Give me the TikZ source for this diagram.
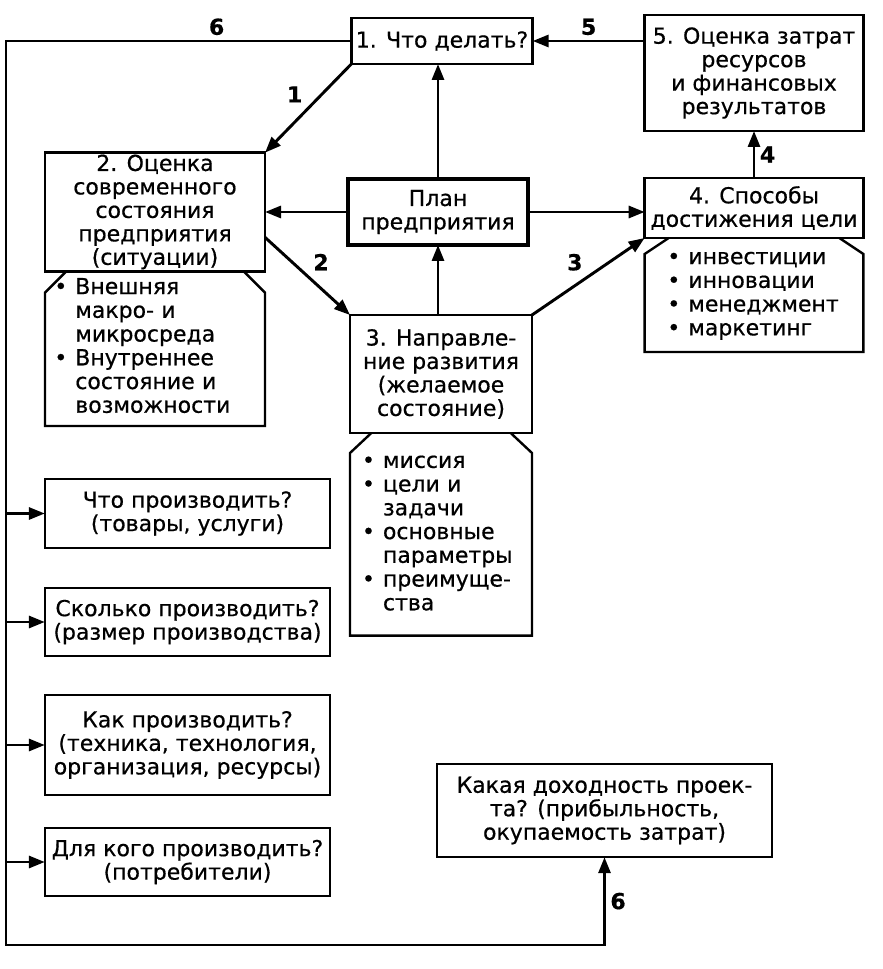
\documentclass[tikz,border=0pt]{standalone}
\usepackage{fontspec}
\setmainfont{DejaVu Sans}[FakeBold=0.6]
\usetikzlibrary{arrows.meta,positioning}

\tikzset{
  box/.style={draw, line width=1.8pt, align=center, inner xsep=3pt, inner ysep=0pt, outer sep=0pt, font=\fontsize{16.5}{17.6}\selectfont},
  planbox/.style={box, line width=3.2pt},
  listbox/.style={inner ysep=0pt, outer sep=0pt, align=left, font=\fontsize{16.5}{17.8}\selectfont},
  num/.style={font=\fontsize{16.5}{18}\selectfont\bfseries},
  conn/.style={line width=2.2pt, -{Triangle[length=12pt,width=9pt]}}
}

\begin{document}
\begin{tikzpicture}[x=0.75pt, y=-0.75pt]
  \useasboundingbox (0,0) rectangle (882,969);

  \node (b1) at (442, 41) [box, minimum width=136pt, minimum height=34.5pt] {1. Что делать?};
  \node (b5) at (754, 73) [box, minimum width=164pt, minimum height=87pt] {5. Оценка затрат\\ресурсов\\и финансовых\\результатов};
  \node (plan) at (438, 212) [planbox, minimum width=135pt, minimum height=49.5pt] {План\\предприятия};
  \node (b4) at (754, 208) [box, minimum width=164pt, minimum height=45pt] {4. Способы\\достижения цели};
  \node (b2) at (155, 212) [box, minimum width=165pt, minimum height=89pt] {2. Оценка\\современного\\состояния\\предприятия\\(ситуации)};
  \node (b3) at (441, 374) [box, minimum width=136.5pt, minimum height=88.5pt] {3. Направле-\\ние развития\\(желаемое\\состояние)};

  % lists under the boxes
  \node (l2) [listbox, below=0pt of b2, inner xsep=7pt, text width=151pt, minimum height=116pt] {%
    \begin{tabular}{@{}l@{\hspace{6pt}}l@{}}
      • & Внешняя\\ & макро- и\\ & микросреда\\
      • & Внутреннее\\ & состояние и\\ & возможности
    \end{tabular}};
  \node (l3) [listbox, below=0pt of b3, inner xsep=9pt, text width=118.5pt, minimum height=152pt] {%
    \begin{tabular}{@{}l@{\hspace{6pt}}l@{}}
      • & миссия\\ • & цели и\\ & задачи\\
      • & основные\\ & параметры\\ • & преимуще-\\ & ства
    \end{tabular}};
  \node (l4) [listbox, below=0pt of b4, inner xsep=17pt, text width=130pt, minimum height=85.5pt] {%
    \begin{tabular}{@{}l@{\hspace{6pt}}l@{}}
      • & инвестиции\\ • & инновации\\ • & менеджмент\\ • & маркетинг
    \end{tabular}};

  \draw[line width=1.8pt] ([xshift=16pt]l2.north west) -- ([yshift=-16pt]l2.north west) -- (l2.south west) -- (l2.south east) -- ([yshift=-16pt]l2.north east) -- ([xshift=-16pt]l2.north east);
  \draw[line width=1.8pt] ([xshift=16pt]l3.north west) -- ([yshift=-15pt]l3.north west) -- (l3.south west) -- (l3.south east) -- ([yshift=-15pt]l3.north east) -- ([xshift=-16pt]l3.north east);
  \draw[line width=1.8pt] ([xshift=18pt]l4.north west) -- ([yshift=-12pt]l4.north west) -- (l4.south west) -- (l4.south east) -- ([yshift=-12pt]l4.north east) -- ([xshift=-18pt]l4.north east);

  % questions
  \node (q1) at (187.5, 513.5) [box, minimum width=214pt, minimum height=52pt] {Что производить?\\(товары, услуги)};
  \node (q2) at (187.5, 622) [box, minimum width=214pt, minimum height=51pt] {Сколько производить?\\(размер производства)};
  \node (q3) at (187.5, 745) [box, minimum width=214pt, minimum height=75pt] {Как производить?\\(техника, технология,\\организация, ресурсы)};
  \node (q4) at (187.5, 862) [box, minimum width=214pt, minimum height=51pt] {Для кого производить?\\(потребители)};
  \node (q5) at (604.5, 810.5) [box, minimum width=251pt, minimum height=70pt] {Какая доходность проек-\\та? (прибыльность,\\окупаемость затрат)};

  \coordinate (busL) at (6, 945);

  \draw[conn] (b1.south west) -- node[num, above left] {1} (b2.north east);
  \draw[conn] ([yshift=-19pt]b2.east) -- node[num, above right] {2} (b3.north west);
  \draw[conn] (b3.north east) -- node[num, above left] {3} (b4.south west);
  \draw[conn] (b4) -- node[num, right] {4} (b5);
  \draw[conn] (b5.west |- b1.east) -- node[num, above] {5} (b1.east);

  \draw[conn] (plan.north) -- (plan.north |- b1.south);
  \draw[conn] (plan.south |- b3.north) -- (plan.south);
  \draw[conn] (plan.west) -- (plan.west -| b2.east);
  \draw[conn] (plan.east) -- (plan.east -| b4.west);

  % 6: back to the start and on to the questions
  \draw[conn] (b1.west) -- node[num, above, pos=.39] {6} (b1.west -| busL) -- (busL) -| node[num, right, pos=.75] {6} (q5.south);
  \draw[conn] (q1.west -| busL) -- (q1.west);
  \draw[conn] (q2.west -| busL) -- (q2.west);
  \draw[conn] (q3.west -| busL) -- (q3.west);
  \draw[conn] (q4.west -| busL) -- (q4.west);
\end{tikzpicture}
\end{document}
